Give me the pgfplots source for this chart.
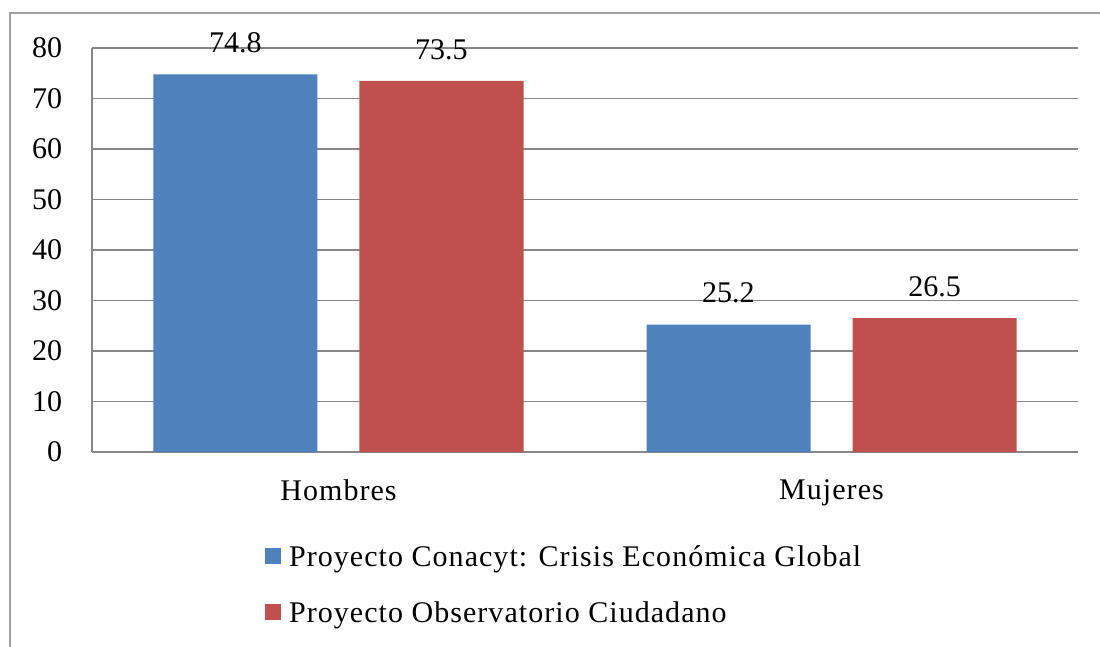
\documentclass[border=0pt]{standalone}
\usepackage{fontspec}
\setmainfont{Liberation Serif}
\newfontfamily\lsfont{Liberation Serif}[LetterSpace=3.5]
\usepackage{pgfplots}
\pgfplotsset{compat=1.18}
\definecolor{cblue}{HTML}{4F81BD}
\definecolor{cred}{HTML}{C0504D}
\definecolor{cgrid}{HTML}{878787}
\definecolor{cframe}{HTML}{A0A0A0}
\begin{document}
\begin{tikzpicture}[font=\fontsize{15}{18}\selectfont]
\useasboundingbox (0pt,0pt) rectangle (550pt,-323.5pt);
\draw[cframe, line width=0.75pt] (5pt,-330pt) -- (5pt,-6.6pt) -- (560pt,-6.6pt);
\begin{axis}[
  at={(46pt,-226pt)}, anchor=south west,
  scale only axis, width=493pt, height=202pt,
  ybar, bar width=82pt,
  xmin=-0.5, xmax=1.5, ymin=0, ymax=80,
  enlargelimits=false,
  xtick={0,1}, xticklabels={Hombres,Mujeres},
  ytick={0,10,...,80},
  axis lines*=left,
  axis line style={-, draw=cgrid, line width=0.75pt},
  ymajorgrids, grid style={draw=cgrid, line width=0.75pt},
  major tick length=0pt,
  tick style={draw=none},
  /pgf/number format/assume math mode=true,
  xticklabel style={inner sep=0pt, anchor=north, yshift=-13.7pt, font=\lsfont\fontsize{15}{18}\selectfont},
  yticklabel style={inner sep=0pt, anchor=east, xshift=-14.7pt},
  nodes near coords={\pgfmathprintnumber[fixed,precision=1,fixed zerofill,assume math mode=true]{\pgfplotspointmeta}},
  every node near coord/.append style={anchor=south, inner sep=0pt, yshift=10.5pt, font=\fontsize{15}{18}\selectfont},
  legend cell align=left,
  legend style={at={(axis description cs:0.1755,-0.2129)}, anchor=north west,
    draw=none, fill=none, inner sep=0pt, outer sep=0pt, column sep=4pt, row sep=0pt,
    font=\lsfont\fontsize{15}{18}\selectfont,
    nodes={inner sep=0pt, text height=14pt, text depth=14pt}},
  legend image code/.code={\fill[#1] (0pt,1pt) rectangle (8pt,9pt);},
]
\addplot[fill=cblue, draw=none, bar shift=-51.5pt] coordinates {(0,74.8) (1,25.2)};
\addplot[fill=cred, draw=none, bar shift=51.5pt] coordinates {(0,73.5) (1,26.5)};
\legend{Proyecto Conacyt: Crisis Económica Global, Proyecto Observatorio Ciudadano}
\end{axis}
\end{tikzpicture}
\end{document}
